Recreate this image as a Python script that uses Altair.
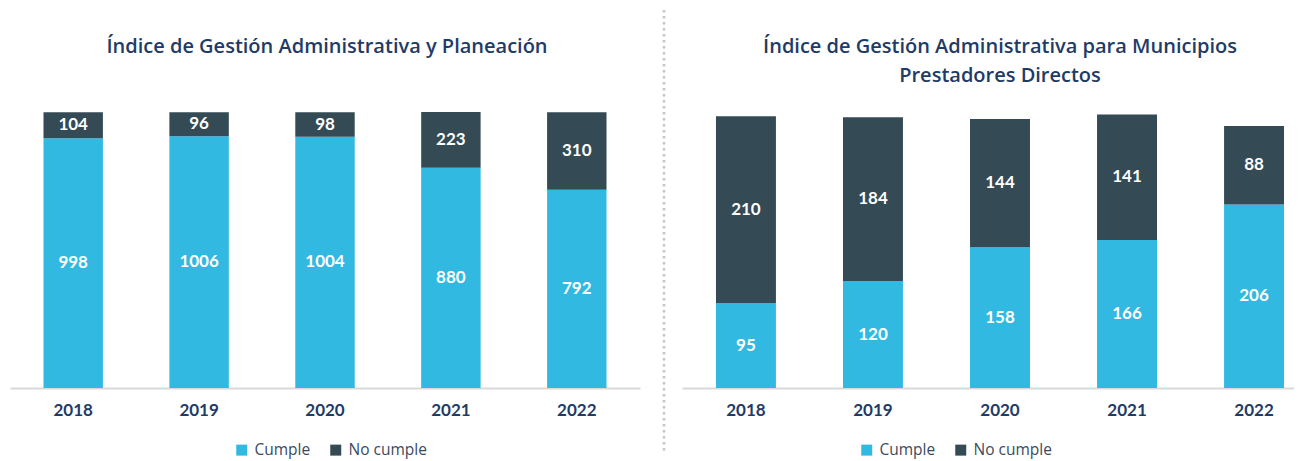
import altair as alt
import pandas as pd

years = ["2018", "2019", "2020", "2021", "2022"]
series = ["Cumple", "No cumple"]
left_cumple = [998, 1006, 1004, 880, 792]
left_no = [104, 96, 98, 223, 310]
right_cumple = [95, 120, 158, 166, 206]
right_no = [210, 184, 144, 141, 88]

left_title = ["Índice de Gestión Administrativa y Planeación"]
right_title = ["Índice de Gestión Administrativa para Municipios", "Prestadores Directos"]

C_CUMPLE = "#32B9E1"
C_NO = "#344A54"
NAVY = "#1F3B66"
FONT = "Lato"
TFONT = "Open Sans"
H = 291


def build(cumple, no, ymax, width, po, align, title_lines, legend_x, title_x, divider=False):
    rows = []
    for i, yr in enumerate(years):
        rows.append(dict(year=yr, serie=series[0], y0=0, y1=cumple[i], val=cumple[i]))
        rows.append(dict(year=yr, serie=series[1], y0=cumple[i], y1=cumple[i] + no[i], val=no[i]))
    df = pd.DataFrame(rows)
    df["mid"] = (df["y0"] + df["y1"]) / 2

    xs = alt.X("year:N", sort=years, title=None,
               scale=alt.Scale(paddingInner=0.528, paddingOuter=po, align=align),
               axis=alt.Axis(labelAngle=0, ticks=False, domainColor="#D9D9D9", domainWidth=2,
                             labelFont=FONT, labelFontSize=17, labelFontWeight="bold",
                             labelColor=NAVY, labelPadding=14))
    ysc = alt.Scale(domain=[0, ymax], nice=False)
    base = alt.Chart(df)
    bars = base.mark_bar().encode(
        x=xs,
        y=alt.Y("y0:Q", scale=ysc, axis=None),
        y2="y1:Q",
        color=alt.Color("serie:N", sort=series,
                        scale=alt.Scale(domain=series, range=[C_CUMPLE, C_NO]),
                        legend=alt.Legend(title=None, orient="none", direction="horizontal",
                                          legendX=legend_x, legendY=H + 54,
                                          symbolType="square", symbolSize=121,
                                          symbolStrokeWidth=0, labelFont=TFONT,
                                          labelFontSize=15.5, labelColor="#3B4A5E",
                                          columnPadding=17, labelOffset=5)),
    )
    labels = base.mark_text(color="white", font=FONT, fontSize=17, fontWeight="bold",
                            baseline="middle").encode(
        x=alt.X("year:N", sort=years),
        y=alt.Y("mid:Q", scale=ysc),
        text="val:Q",
    )
    tdf = pd.DataFrame({"t": title_lines, "i": list(range(len(title_lines)))})
    tdf["yy"] = -50 + 29 * tdf["i"]
    titles = alt.Chart(tdf).mark_text(font=TFONT, fontSize=20, fontWeight=600, color=NAVY,
                                      baseline="middle", align="center").encode(
        x=alt.value(title_x),
        y=alt.Y("yy:Q", scale=None),
        text="t:N",
    )
    layers = [bars, labels, titles]
    if divider:
        ddf = pd.DataFrame({"a": [0]})
        rule = alt.Chart(ddf).mark_rule(color="#C4C4C4", strokeWidth=2.5, strokeDash=[2.5, 3.5]).encode(
            x=alt.value(-18), y=alt.value(-87), y2=alt.value(H + 66))
        layers.append(rule)
    return alt.layer(*layers).properties(width=width, height=H)


left = build(left_cumple, left_no, 1163, 630, 0.266, 0.5, left_title, 224, 317)
right = build(right_cumple, right_no, 326.6, 612, 0.173, 0.773, right_title, 177, 318, divider=True)

chart = alt.hconcat(left, right, spacing=42, bounds="flush").resolve_scale(
    color="independent", x="independent", y="independent"
).resolve_legend(color="independent").properties(
    padding={"left": 2, "top": 0, "right": 0, "bottom": 0}
).configure_view(stroke=None)

chart.save("out.html", embed_options={"renderer": "svg", "actions": False})
